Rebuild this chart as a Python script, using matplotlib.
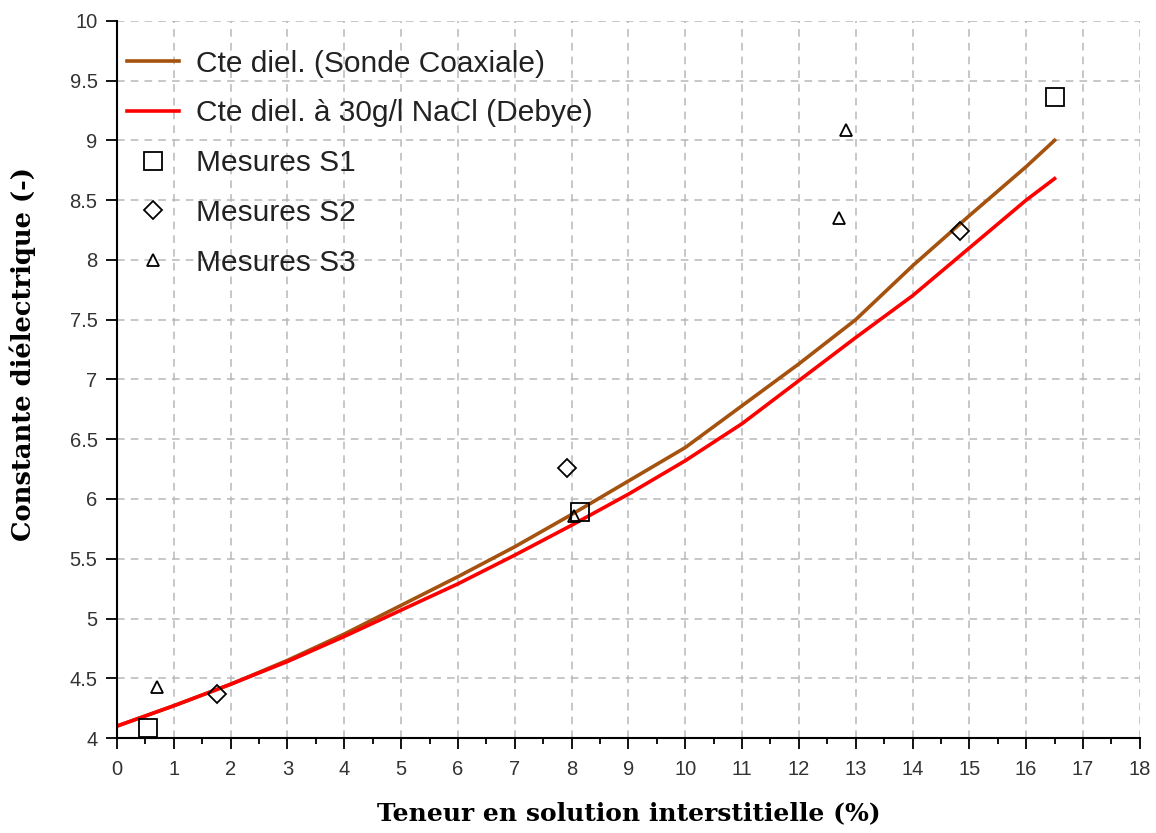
import numpy as np
import matplotlib
matplotlib.use("Agg")
import matplotlib.pyplot as plt
from matplotlib.ticker import MultipleLocator

# curves
x_curve = [0, 1, 2, 3, 4, 5, 6, 7, 8, 9, 10, 11, 12, 13, 14, 15, 16, 16.5]
coax = [4.10, 4.27, 4.45, 4.65, 4.87, 5.11, 5.35, 5.60, 5.87, 6.15, 6.43,
        6.78, 7.13, 7.50, 7.95, 8.37, 8.78, 9.00]
debye = [4.10, 4.27, 4.45, 4.64, 4.85, 5.07, 5.29, 5.53, 5.78, 6.04, 6.32,
         6.63, 6.99, 7.35, 7.70, 8.10, 8.50, 8.68]

# measurements
s1_x = [0.55, 8.15, 16.5]
s1_y = [4.08, 5.89, 9.36]
s2_x = [1.76, 7.92, 14.83]
s2_y = [4.37, 6.26, 8.24]
s3_x = [0.70, 8.05, 12.70, 12.83]
s3_y = [4.43, 5.86, 8.35, 9.09]

labels = ["Cte diel. (Sonde Coaxiale)", "Cte diel. à 30g/l NaCl (Debye)",
          "Mesures S1", "Mesures S2", "Mesures S3"]

fig = plt.figure(figsize=(11.56, 8.33), dpi=100)
ax = fig.add_axes([0.1012, 0.114, 0.8848, 0.861])

ax.plot(x_curve, coax, color="#a5520f", lw=2.6, label=labels[0])
ax.plot(x_curve, debye, color="#ff0000", lw=2.6, label=labels[1])
ax.plot(s1_x, s1_y, ls="none", marker="s", ms=13, mfc="none", mec="black", mew=1.3, label=labels[2])
ax.plot(s2_x, s2_y, ls="none", marker="D", ms=9, mfc="none", mec="black", mew=1.3, label=labels[3])
ax.plot(s3_x, s3_y, ls="none", marker="^", ms=9, mfc="none", mec="black", mew=1.3, label=labels[4])

ax.set_xlim(0, 18)
ax.set_ylim(4, 10)
ax.xaxis.set_major_locator(MultipleLocator(1))
ax.xaxis.set_minor_locator(MultipleLocator(0.5))
ax.yaxis.set_major_locator(MultipleLocator(0.5))
ax.yaxis.set_major_formatter(plt.FuncFormatter(lambda v, p: ("%g" % v)))

ax.grid(True, which="major", color="#b8b8b8", ls=(0, (5, 4)), lw=1.1)
ax.set_axisbelow(True)
for s in ["top", "right"]:
    ax.spines[s].set_visible(False)
for s in ["left", "bottom"]:
    ax.spines[s].set_linewidth(1.5)

ax.tick_params(axis="both", which="major", direction="out", length=8, width=1.3,
               labelsize=14.5, labelcolor="#333333", labelfontfamily="Liberation Sans")
ax.tick_params(axis="x", which="major", pad=8)
ax.tick_params(axis="y", which="major", pad=6)
ax.tick_params(axis="x", which="minor", direction="out", length=4, width=1.3)

ax.set_xlabel("Teneur en solution interstitielle (%)", fontsize=18, fontweight="bold",
              family="DejaVu Serif", labelpad=16)
ax.set_ylabel("Constante diélectrique (-)", fontsize=18.5, fontweight="bold",
              family="DejaVu Serif")
ax.yaxis.set_label_coords(-0.079, 0.535)

ax.legend(loc="upper left", bbox_to_anchor=(0.01, 0.96), frameon=False,
          borderaxespad=0, borderpad=0, handlelength=1.75, handletextpad=0.55,
          labelspacing=0.73, prop={"family": "Liberation Sans", "size": 21.5},
          labelcolor="#222222")

fig.savefig("out.png", dpi=100)
